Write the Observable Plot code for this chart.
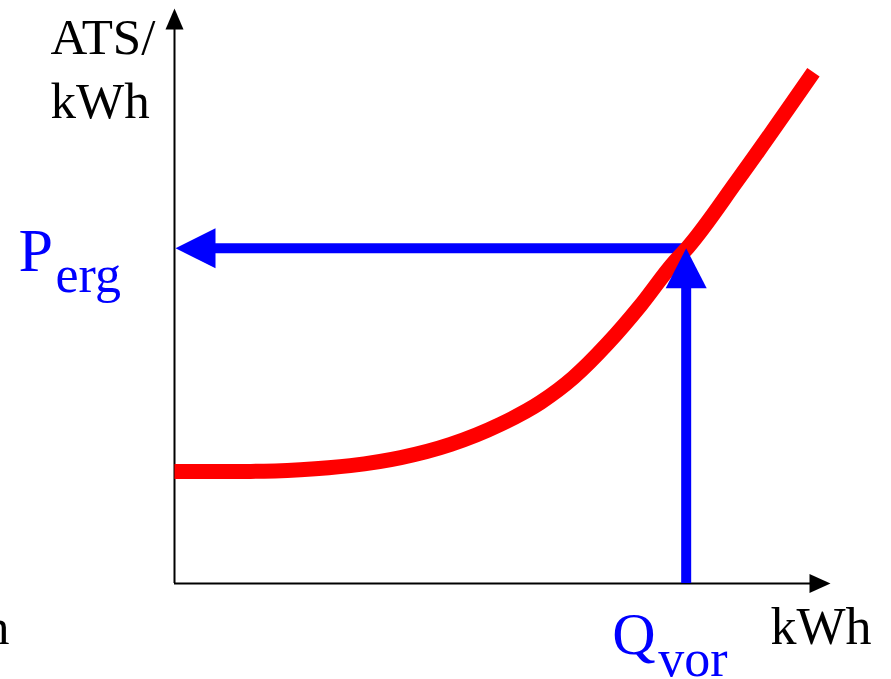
<!DOCTYPE html>
<html>
<head>
<meta charset="utf-8">
<script src="https://cdn.jsdelivr.net/npm/d3@7"></script>
<script src="https://cdn.jsdelivr.net/npm/@observablehq/plot@0.6"></script>
<style>
  html, body { margin: 0; padding: 0; background: #fff; }
  #chart svg { display: block; }
  #chart svg text, #chart svg tspan { font-family: "Liberation Serif", "Times New Roman", Tinos, Times, serif !important; }
</style>
</head>
<body>
<div id="chart"></div>
<script>
// Red cost curve (x: quantity kWh, y: price ATS/kWh)
const curveX = [0, 11.6, 19.2, 26.8, 34.5, 42.1, 49.7, 55.8, 60.8, 66.0, 71.0, 76.1, 78.2, 85.8, 97.4];
const curveY = [19.5, 19.5, 19.8, 20.5, 21.9, 24.2, 27.7, 31.5, 35.8, 41.7, 48.3, 55.8, 58.4, 70.1, 88.9];
// Read-off point
const Qvor = [78.0];
const Perg = [58.3];
// Axis extents
const axisMax = [100];
// Labels
const yLabel = "ATS/\nkWh";
const xLabel = "kWh";
const pLabel = ["P", "erg"];
const qLabel = ["Q", "vor"];
const cutLabel = "n";

const curve = curveX.map((x, i) => ({x, y: curveY[i]}));

// filled arrowhead symbol, tip at the anchor, pointing up (before rotation)
function head(len, w) {
  return {draw(ctx) { ctx.moveTo(0, 0); ctx.lineTo(w / 2, len); ctx.lineTo(-w / 2, len); ctx.closePath(); }};
}

const font = "Liberation Serif";
const blue = "#0000ff";

const plot = Plot.plot({
  width: 891,
  height: 679,
  marginLeft: 174,
  marginRight: 61,
  marginTop: 8,
  marginBottom: 96,
  x: {domain: [0, 100], axis: null},
  y: {domain: [0, 100], axis: null},
  style: {background: "#fff"},
  marks: [
    // axes
    Plot.ruleX([0], {y1: axisMax[0], y2: 0, stroke: "#000", strokeWidth: 2, insetTop: 16}),
    Plot.ruleY([0], {x1: 0, x2: axisMax[0], stroke: "#000", strokeWidth: 2, insetRight: 16}),
    Plot.dot([0], {x: 0, y: axisMax[0], symbol: head(21, 18), fill: "#000", stroke: null}),
    Plot.dot([0], {x: axisMax[0], y: 0, symbol: head(21, 19), rotate: 90, fill: "#000", stroke: null}),
    // horizontal blue arrow to the price axis
    Plot.ruleY(Perg, {x1: 0, x2: Qvor[0], y: d => d, stroke: blue, strokeWidth: 10, insetLeft: 30}),
    Plot.dot(Perg, {x: 0, y: d => d, symbol: head(40, 40), rotate: -90, fill: blue, stroke: null, dx: 1}),
    // red curve
    Plot.line(curve, {x: "x", y: "y", curve: "monotone-x", stroke: "#ff0000", strokeWidth: 15, strokeLinecap: "butt", strokeLinejoin: "round"}),
    // vertical blue arrow from the quantity axis
    Plot.ruleX(Qvor, {x: d => d, y1: Perg[0], y2: 0, stroke: blue, strokeWidth: 10, insetTop: 30}),
    Plot.dot(Qvor, {x: d => d, y: Perg[0], symbol: head(40, 41), fill: blue, stroke: null}),
    // labels
    Plot.text([yLabel], {text: d => d, frameAnchor: "top-left", textAnchor: "start", lineAnchor: "bottom", lineHeight: 1.25, dx: -124, dy: 109, fontSize: 51, fontFamily: font, fill: "#000"}),
    Plot.text([xLabel], {text: d => d, frameAnchor: "bottom-right", textAnchor: "start", lineAnchor: "bottom", dx: -60, dy: 60, fontSize: 52, fontFamily: font, fill: "#000"}),
    Plot.text([cutLabel], {text: d => d, frameAnchor: "bottom-left", textAnchor: "end", lineAnchor: "bottom", dx: -165, dy: 60, fontSize: 51, fontFamily: font, fill: "#000"}),
    Plot.text(Perg, {y: d => d, text: () => pLabel[0], frameAnchor: "left", textAnchor: "start", lineAnchor: "bottom", dx: -156, dy: 23, fontSize: 62, fontFamily: font, fill: blue}),
    Plot.text(Perg, {y: d => d, text: () => pLabel[1], frameAnchor: "left", textAnchor: "start", lineAnchor: "bottom", dx: -119, dy: 44, fontSize: 52, fontFamily: font, fill: blue}),
    Plot.text(Qvor, {x: d => d, text: () => qLabel[0], frameAnchor: "bottom", textAnchor: "start", lineAnchor: "bottom", dx: -74, dy: 70, fontSize: 60, fontFamily: font, fill: blue}),
    Plot.text(Qvor, {x: d => d, text: () => qLabel[1], frameAnchor: "bottom", textAnchor: "start", lineAnchor: "bottom", dx: -28, dy: 92, fontSize: 52, fontFamily: font, fill: blue})
  ]
});
document.getElementById("chart").appendChild(plot);
</script>
</body>
</html>
